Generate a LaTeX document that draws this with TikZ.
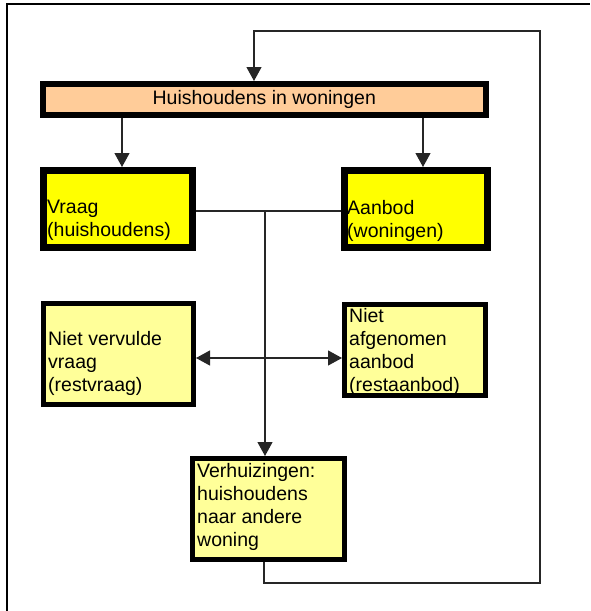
\documentclass[tikz,border=0pt]{standalone}
\usepackage{fontspec}
\setmainfont{Liberation Sans}
\usetikzlibrary{arrows.meta}
\definecolor{peach}{HTML}{FFCC99}
\definecolor{brightyellow}{HTML}{FFFF00}
\definecolor{paleyellow}{HTML}{FFFF99}
\tikzset{
  box/.style={draw=black, rectangle, inner sep=0pt},
  txt/.style={font=\fontsize{19.5}{23}\selectfont, align=left, inner sep=0pt, anchor=north west},
  conn/.style={line width=1.2pt, draw=black!85},
  arr/.style={conn, -{Triangle[length=14pt,width=15pt]}},
  darr/.style={conn, {Triangle[length=14pt,width=15pt]}-{Triangle[length=14pt,width=15pt]}},
}
\begin{document}
\begin{tikzpicture}[x=1pt,y=-1pt]
\useasboundingbox (0,0) rectangle (590,611);
% outer frame
\draw[line width=2pt] (7,611) -- (7,4) -- (590,4);

% boxes
\node[box, line width=6pt, fill=peach, minimum width=443.5pt, minimum height=31pt,
      font=\fontsize{19.5}{23}\selectfont] (top) at (264.25,99.5) {Huishoudens in woningen};
\node[box, line width=7pt, fill=brightyellow, minimum width=149pt, minimum height=77pt] (vraag) at (118,209) {};
\node[box, line width=7pt, fill=brightyellow, minimum width=143pt, minimum height=77pt] (aanbod) at (416,209) {};
\node[box, line width=5pt, fill=paleyellow, minimum width=150pt, minimum height=101pt] (nvv) at (118.5,354) {};
\node[box, line width=5pt, fill=paleyellow, minimum width=141pt, minimum height=91pt] (nab) at (415,350) {};
\node[box, line width=5pt, fill=paleyellow, minimum width=152pt, minimum height=101pt] (verh) at (268.5,509) {};

% texts
\node[txt] (vraagT) at (47,200) {Vraag\\(huishoudens)};
\node[txt] (aanbodT) at (347,200) {Aanbod\\(woningen)};
\node[txt] (nvvT) at (48,331.5) {Niet vervulde\\vraag\\(restvraag)};
\node[txt] (nabT) at (349,308) {Niet\\afgenomen\\aanbod\\(restaanbod)};
\node[txt] (verhT) at (197,463) {Verhuizingen:\\huishoudens\\naar andere\\woning};

% connectors
\draw[arr] ([xshift=4pt]vraag.north |- top.south) -- ([xshift=4pt]vraag.north);
\draw[arr] ([xshift=7pt]aanbod.north |- top.south) -- ([xshift=7pt]aanbod.north);
\coordinate (j) at (265,211);
\draw[conn] (vraag.east |- j) -- (aanbod.west |- j);
\draw[arr] (j) -- (j |- verh.north);
\coordinate (ya) at (0,358);
\draw[darr] (nvv.east |- ya) -- (nab.west |- ya);
\coordinate (c1) at (264,583);
\coordinate (c2) at (540,583);
\coordinate (c3) at (540,31);
\coordinate (c4) at (254,31);
\draw[arr] (verh.south -| c1) -- (c1) -- (c2) -- (c3) -- (c4) -- (c4 |- top.north);
\end{tikzpicture}
\end{document}
